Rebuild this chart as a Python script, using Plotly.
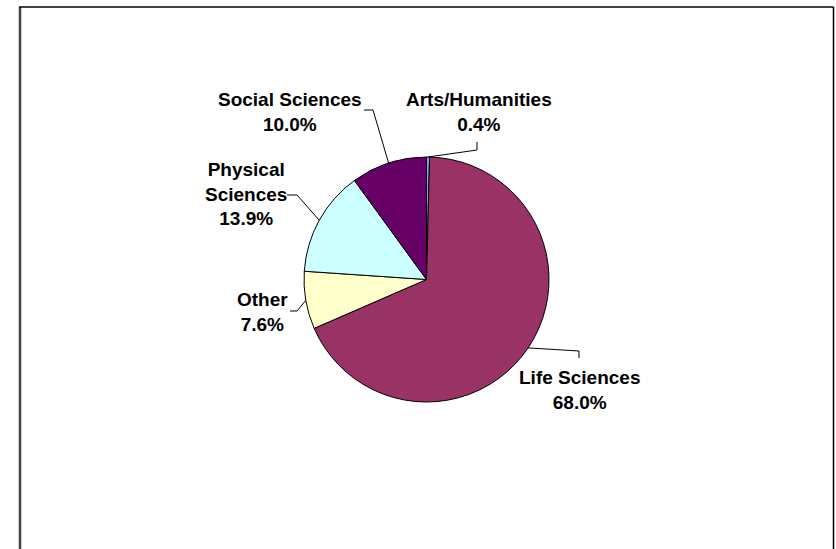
import math
import plotly.graph_objects as go

# ---- data ----
labels = ["Arts/Humanities", "Life Sciences", "Other", "Physical Sciences", "Social Sciences"]
values = [0.4, 68.0, 7.6, 13.9, 10.0]
label_text = ["Arts/Humanities<br>0.4%", "Life Sciences<br>68.0%", "Other<br>7.6%",
              "Physical<br>Sciences<br>13.9%", "Social Sciences<br>10.0%"]
colors = ["#9999FF", "#993366", "#FFFFCC", "#CCFFFF", "#660066"]

# ---- layout (pixel space) ----
W, H = 836, 549
CX, CY, R = 426.5, 279.5, 122.5
# label centres and leader-line elbows / ends (layout positions)
label_pos = [(478.5, 111.5), (579, 390), (262, 312), (245.5, 193.5), (290, 111.5)]
elbow = [(477, 150), (579, 351), (297, 311), (297, 195), (373, 110)]
line_end = [(477, 142), (579, 358), (290, 311), (287, 195), (364, 110)]

FONT = "Liberation Sans, Arial, sans-serif"

fig = go.Figure()
fig.add_trace(go.Pie(
    labels=labels, values=values, sort=False, direction="clockwise", rotation=0,
    marker=dict(colors=colors, line=dict(color="black", width=1)),
    textinfo="none", hoverinfo="label+percent", showlegend=False,
    domain=dict(x=[(CX - R) / W, (CX + R) / W], y=[(H - CY - R) / H, (H - CY + R) / H]),
))

shapes = []
annotations = []
total = sum(values)
cum = 0.0
for i, v in enumerate(values):
    mid = (cum + v / 2) / total * 2 * math.pi
    cum += v
    px = CX + R * math.sin(mid)
    py = CY - R * math.cos(mid)
    ex, ey = elbow[i]
    lx, ly = line_end[i]
    shapes.append(dict(type="path", xref="x", yref="y",
                       path=f"M {px:.1f} {py:.1f} L {ex} {ey} L {lx} {ly}",
                       line=dict(color="black", width=1)))
    annotations.append(dict(x=label_pos[i][0], y=label_pos[i][1], xref="x", yref="y",
                            text="<b>" + label_text[i].replace("<br>", "</b><br><b>") + "</b>",
                            showarrow=False, align="center",
                            xanchor="center", yanchor="middle",
                            font=dict(family=FONT, size=19, color="black")))

# chart border
shapes.append(dict(type="line", xref="x", yref="y", x0=20, y0=7, x1=20, y1=560,
                   line=dict(color="#404040", width=2.5)))
shapes.append(dict(type="line", xref="x", yref="y", x0=19, y0=7, x1=833.5, y1=7,
                   line=dict(color="black", width=1.5)))
shapes.append(dict(type="line", xref="x", yref="y", x0=833.5, y0=7, x1=833.5, y1=560,
                   line=dict(color="black", width=1.5)))

fig.update_layout(
    width=W, height=H, margin=dict(l=0, r=0, t=0, b=0),
    paper_bgcolor="white", plot_bgcolor="rgba(0,0,0,0)",
    xaxis=dict(range=[0, W], visible=False, fixedrange=True),
    yaxis=dict(range=[H, 0], visible=False, fixedrange=True),
    shapes=shapes, annotations=annotations,
)

fig.write_html("out.html", config={"displayModeBar": False},
               post_script="document.body.style.margin='0';document.body.style.overflow='hidden';")
